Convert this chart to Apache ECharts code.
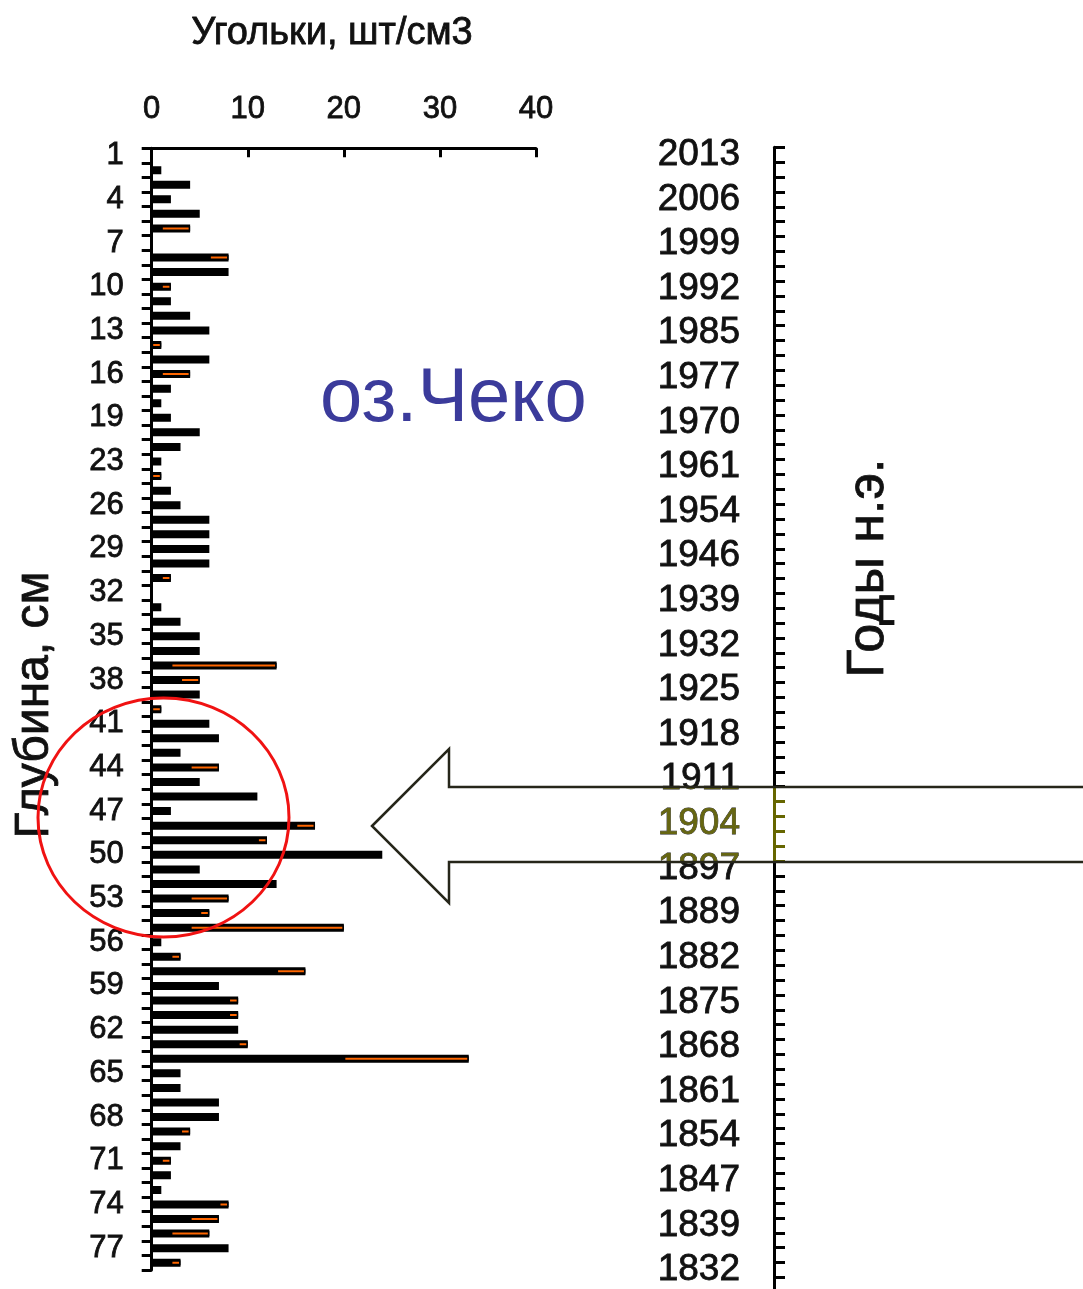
<!DOCTYPE html>
<html>
<head>
<meta charset="utf-8">
<script src="https://cdn.jsdelivr.net/npm/echarts@6/dist/echarts.min.js"></script>
<style>
  html, body { margin: 0; padding: 0; background: #fff; }
  #chart { width: 1083px; height: 1289px; }
</style>
</head>
<body>
<div id="chart"></div>
<script>
// Depth of each sample, cm (22 cm is absent from the core sequence)
const depthLabels = [1, 2, 3, 4, 5, 6, 7, 8, 9, 10, 11, 12, 13, 14, 15, 16, 17, 18, 19, 20, 21,
  23, 24, 25, 26, 27, 28, 29, 30, 31, 32, 33, 34, 35, 36, 37, 38, 39, 40, 41, 42, 43, 44, 45,
  46, 47, 48, 49, 50, 51, 52, 53, 54, 55, 56, 57, 58, 59, 60, 61, 62, 63, 64, 65, 66, 67, 68,
  69, 70, 71, 72, 73, 74, 75, 76, 77, 78];

// Charcoal particles per cm3 at each depth
const charcoal = [
  0, 1, 4, 2, 5, 4, 0, 8, 8, 2,
  2, 4, 6, 1, 6, 4, 2, 1, 2, 5,
  3, 1, 1, 2, 3, 6, 6, 6, 6, 2,
  0, 1, 3, 5, 5, 13, 5, 5, 1, 6,
  7, 3, 7, 5, 11, 2, 17, 12, 24, 5,
  13, 8, 6, 20, 1, 3, 16, 7, 9, 9,
  9, 10, 33, 3, 3, 7, 7, 4, 3, 2,
  2, 1, 8, 7, 6, 8, 3
];

// Lower bound of the highlighted (orange) part of each bar; it runs up to the bar value
const markedFrom = [
  null, null, null, null, null, 1, null, 6, null, 1,
  null, null, null, 0, null, 1, null, null, null, null,
  null, null, 0, null, null, null, null, null, null, 1,
  null, null, null, null, null, 2, 3, null, 0, null,
  null, null, 4, null, null, null, 15, 11, null, null,
  null, 4, 5, 4, null, 2, 13, null, 8, 8,
  null, 9, 20, null, null, null, null, 3, null, 1,
  null, null, 7, 4, 2, null, 2
];

// Value axis ticks
const valueTicks = [0, 10, 20, 30, 40];

// Age scale labels (years AD), one per three depth steps
const yearLabels = ['2013', '2006', '1999', '1992', '1985', '1977', '1970', '1961', '1954',
  '1946', '1939', '1932', '1925', '1918', '1911', '1904', '1897', '1889', '1882', '1875',
  '1868', '1861', '1854', '1847', '1839', '1832'];

const FONT = "'Liberation Sans', Arial, Helvetica, sans-serif";
const INK = '#111';

const markedLength = markedFrom.map((f, i) => (f == null ? null : charcoal[i] - f));
const yearBands = yearLabels.flatMap(y => [y, y + '_a', y + '_b']);

// a hairline outline in the text colour gives the slightly heavy lettering
const heavy = (color, w) => ({ textBorderColor: color, textBorderWidth: w });

const chart = echarts.init(document.getElementById('chart'), null, { renderer: 'canvas' });

chart.setOption({
  backgroundColor: '#ffffff',
  animation: false,
  textStyle: { fontFamily: FONT },
  grid: [
    { left: 151.7, top: 148.3, width: 384.3, height: 1121.7, containLabel: false, outerBoundsMode: 'none' },
    { left: 774, top: 147.3, width: 60, height: 14.87 * yearBands.length, containLabel: false, outerBoundsMode: 'none' }
  ],
  xAxis: [
    {
      gridIndex: 0, type: 'value', position: 'top',
      min: valueTicks[0], max: valueTicks[valueTicks.length - 1],
      interval: valueTicks[1] - valueTicks[0],
      axisLine: { show: true, lineStyle: { color: '#000', width: 3 } },
      axisTick: { show: true, inside: true, length: 9, lineStyle: { color: '#000', width: 3 } },
      axisLabel: Object.assign({ fontSize: 31, color: INK, margin: 23, fontFamily: FONT, hideOverlap: false }, heavy(INK, 0.8)),
      splitLine: { show: false }
    },
    { gridIndex: 1, type: 'value', show: false, min: 0, max: 1 }
  ],
  yAxis: [
    {
      gridIndex: 0, type: 'category', data: depthLabels, inverse: true,
      axisLine: { show: true, lineStyle: { color: '#000', width: 3 } },
      axisTick: { show: true, inside: false, length: 10, interval: 0, lineStyle: { color: '#000', width: 3 } },
      axisLabel: Object.assign({ interval: 2, fontSize: 31, color: INK, margin: 28, fontFamily: FONT, hideOverlap: false }, heavy(INK, 0.8)),
      splitLine: { show: false }
    },
    {
      gridIndex: 0, type: 'category', data: depthLabels, inverse: true, show: false
    },
    {
      gridIndex: 1, type: 'category', data: yearBands, inverse: true, position: 'left',
      axisLine: { show: true, lineStyle: { color: '#000', width: 3 } },
      axisTick: { show: true, inside: true, length: 11, interval: 0, lineStyle: { color: '#000', width: 3 } },
      axisLabel: Object.assign({
        interval: 0, fontSize: 37, color: INK, margin: 34, fontFamily: FONT, hideOverlap: false,
        formatter: v => (v.indexOf('_') >= 0 ? '' : v)
      }, heavy(INK, 0.8)),
      splitLine: { show: false }
    }
  ],
  series: [
    {
      name: 'Угольки', type: 'bar', xAxisIndex: 0, yAxisIndex: 0,
      data: charcoal, barWidth: 8, silent: true,
      itemStyle: { color: '#000', borderColor: '#000', borderWidth: 2 }
    },
    {
      name: 'base', type: 'bar', xAxisIndex: 0, yAxisIndex: 1, stack: 'marked',
      data: markedFrom, barWidth: 5, silent: true,
      itemStyle: { color: 'rgba(0,0,0,0)', borderWidth: 0 }
    },
    {
      name: 'marked', type: 'bar', xAxisIndex: 0, yAxisIndex: 1, stack: 'marked',
      data: markedLength, barWidth: 5, silent: true,
      itemStyle: { color: '#ff6600', borderColor: '#000', borderWidth: 1.5 }
    }
  ],
  graphic: [
    {
      type: 'text', x: 332, y: 34, z: 100,
      style: { text: 'Угольки, шт/см3', font: '38px ' + FONT, fill: INK, stroke: INK, lineWidth: 0.8, textAlign: 'center', textVerticalAlign: 'middle' }
    },
    {
      type: 'text', x: 35, y: 705, rotation: Math.PI / 2, z: 100,
      style: { text: 'Глубина, см', font: '48px ' + FONT, fill: INK, stroke: INK, lineWidth: 0.8, textAlign: 'center', textVerticalAlign: 'middle' }
    },
    {
      type: 'text', x: 869, y: 568, rotation: Math.PI / 2, z: 100,
      style: { text: 'Годы н.э.', font: '52px ' + FONT, fill: INK, stroke: INK, lineWidth: 0.8, textAlign: 'center', textVerticalAlign: 'middle' }
    },
    {
      type: 'text', x: 320, y: 400, z: 100,
      style: { text: 'оз.Чеко', font: '76px ' + FONT, fill: '#3b3b9b', textAlign: 'left', textVerticalAlign: 'middle' }
    },
    {
      // tints everything inside the arrow shaft olive
      type: 'rect', z: 100,
      shape: { x: 449, y: 788, width: 640, height: 73 },
      style: { fill: '#666600', blend: 'lighten' }
    },
    {
      type: 'polygon', z: 101,
      shape: { points: [[372, 826], [449, 749], [449, 787], [1090, 787], [1090, 862], [449, 862], [449, 903]] },
      style: { fill: 'none', stroke: '#26261a', lineWidth: 2.5 }
    },
    {
      type: 'ellipse', z: 102,
      shape: { cx: 163.5, cy: 817.5, rx: 125.5, ry: 119.5 },
      style: { fill: 'none', stroke: '#f01212', lineWidth: 3 }
    }
  ]
});
</script>
</body>
</html>
